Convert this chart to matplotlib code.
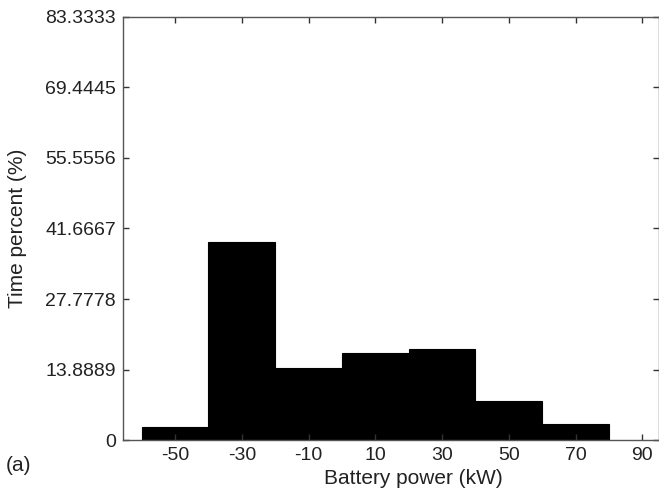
import matplotlib
matplotlib.use("Agg")
import matplotlib.pyplot as plt
import numpy as np

plt.rcParams['font.family'] = ['Liberation Sans', 'DejaVu Sans']

bin_centers = [-50, -30, -10, 10, 30, 50, 70]
percent = [2.5, 39.1, 14.25, 17.1, 17.9, 7.7, 3.15]
bin_width = 20
xticks = [-50, -30, -10, 10, 30, 50, 70, 90]
yticks = [0, 13.8889, 27.7778, 41.6667, 55.5556, 69.4445, 83.3333]
ytick_labels = ['0', '13.8889', '27.7778', '41.6667', '55.5556', '69.4445', '83.3333']

fig = plt.figure(figsize=(6.59, 4.94), dpi=100)
ax = fig.add_axes([0.1867, 0.1093, 0.8133, 0.8563])

ax.bar(bin_centers, percent, width=bin_width, color='black', edgecolor='black', linewidth=0.8)

ax.set_xlim(-65.6, 95)
ax.set_ylim(0, 83.3333)
ax.set_xticks(xticks)
ax.set_xticklabels([str(v) for v in xticks])
ax.set_yticks(yticks)
ax.set_yticklabels(ytick_labels)

ax.tick_params(direction='in', length=4, width=1, color='#333333', labelsize=14,
               labelcolor='#222222', top=True, right=True, pad=5)
for s in ax.spines.values():
    s.set_color('#555555')
    s.set_linewidth(1)

ax.set_ylabel('Time percent (%)', fontsize=15, color='#222222')
ax.set_xlabel('Battery power (kW)', fontsize=15, color='#222222')
ax.xaxis.set_label_coords(0.542, -0.068)
ax.yaxis.set_label_coords(-0.18, 0.5)

fig.text(0.008, 0.058, '(a)', fontsize=15, ha='left', va='center', color='#222222')

fig.savefig('out.png', dpi=100)
